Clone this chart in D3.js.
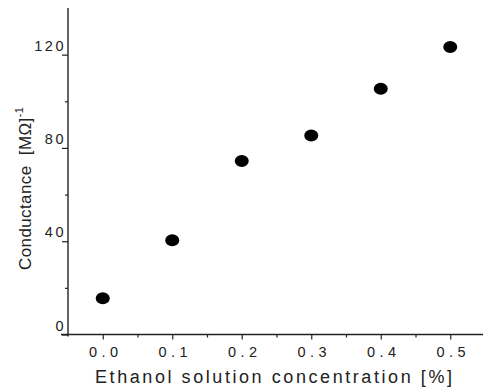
<!DOCTYPE html>
<html>
<head>
<meta charset="utf-8">
<script src="https://cdn.jsdelivr.net/npm/d3@7"></script>
<style>
  body { margin: 0; background: #fff; }
  svg { display: block; }
  text { font-family: "Liberation Sans", Arial, sans-serif; fill: #222; }
</style>
</head>
<body>
<div id="chart"></div>
<script>
// data
const concentration = [0.0, 0.1, 0.2, 0.3, 0.4, 0.5];
const conductance = [15.5, 40.4, 74.4, 85.3, 105.4, 123.3];
const xTicks = [0.0, 0.1, 0.2, 0.3, 0.4, 0.5];
const xMinor = [0.05, 0.15, 0.25, 0.35, 0.45];
const yTicks = [0, 40, 80, 120];
const yMinor = [20, 60, 100];

const width = 483, height = 387;

const svg = d3.select("#chart").append("svg")
  .attr("width", width)
  .attr("height", height);

const x = d3.scaleLinear().domain([-0.05, 0.55]).range([68, 485]);
const y = d3.scaleLinear().domain([0, 140]).range([334.5, 8]);

// ===== axes =====
const stroke = "#222";

// y axis
const yAxisG = svg.append("g").attr("transform", `translate(${x(-0.05)},0)`);
yAxisG.call(d3.axisLeft(y).tickValues(yTicks).tickSize(6).tickFormat(d3.format("d")))
  .call(gg => gg.select(".domain").remove())
  .call(gg => gg.selectAll("line").attr("stroke", stroke).attr("stroke-width", 1.2))
  .call(gg => gg.selectAll("text")
    .attr("x", -2).attr("dy", "-0.3em")
    .attr("font-size", 14.5).attr("letter-spacing", 2.5)
    .style("font-family", "'Liberation Sans', Arial, sans-serif")
    .attr("fill", "#2a2a2a"));
yAxisG.append("g")
  .call(d3.axisLeft(y).tickValues(yMinor).tickSize(3).tickFormat(""))
  .call(gg => gg.select(".domain").remove())
  .call(gg => gg.selectAll("line").attr("stroke", stroke).attr("stroke-width", 1.2));
yAxisG.append("line")
  .attr("x1", 0).attr("x2", 0)
  .attr("y1", y(140)).attr("y2", y(0) + 2)
  .attr("stroke", stroke).attr("stroke-width", 1.4);

// x axis
const xAxisG = svg.append("g").attr("transform", `translate(0,${y(0)})`);
xAxisG.call(d3.axisBottom(x).tickValues(xTicks).tickSize(5).tickFormat(d3.format(".1f")))
  .call(gg => gg.select(".domain").remove())
  .call(gg => gg.selectAll("line").attr("stroke", stroke).attr("stroke-width", 1.2))
  .call(gg => gg.selectAll("text")
    .attr("y", 12).attr("dy", "0.71em").attr("dx", 2.5)
    .attr("font-size", 14.5).attr("letter-spacing", 4.5)
    .style("font-family", "'Liberation Sans', Arial, sans-serif")
    .attr("fill", "#2a2a2a"));
xAxisG.append("g")
  .call(d3.axisBottom(x).tickValues(xMinor).tickSize(3).tickFormat(""))
  .call(gg => gg.select(".domain").remove())
  .call(gg => gg.selectAll("line").attr("stroke", stroke).attr("stroke-width", 1.2));
xAxisG.append("line")
  .attr("x1", x(-0.05) - 7).attr("x2", width)
  .attr("y1", 0).attr("y2", 0)
  .attr("stroke", stroke).attr("stroke-width", 1.4);

// ===== axis titles =====
svg.append("text")
  .attr("x", 273.5)
  .attr("y", 383)
  .attr("text-anchor", "middle")
  .attr("font-size", 18)
  .attr("fill", "#2a2a2a")
  .attr("textLength", 357)
  .attr("lengthAdjust", "spacing")
  .text("Ethanol solution concentration [%]");

const yTitle = svg.append("text")
  .attr("transform", "translate(31,270) rotate(-90)")
  .attr("text-anchor", "start")
  .attr("font-size", 17)
  .attr("fill", "#2a2a2a")
  .attr("letter-spacing", 0.4)
  .style("white-space", "pre");
yTitle.append("tspan").text("Conductance  [MΩ]");
yTitle.append("tspan").attr("dy", -8).attr("font-size", 11).text("-1");

// ===== points =====
const points = concentration.map((c, i) => ({ c, v: conductance[i] }));
svg.append("g").selectAll("ellipse")
  .data(points)
  .join("ellipse")
  .attr("cx", d => x(d.c))
  .attr("cy", d => y(d.v))
  .attr("rx", 7)
  .attr("ry", 6)
  .attr("fill", "#000");
</script>
</body>
</html>
